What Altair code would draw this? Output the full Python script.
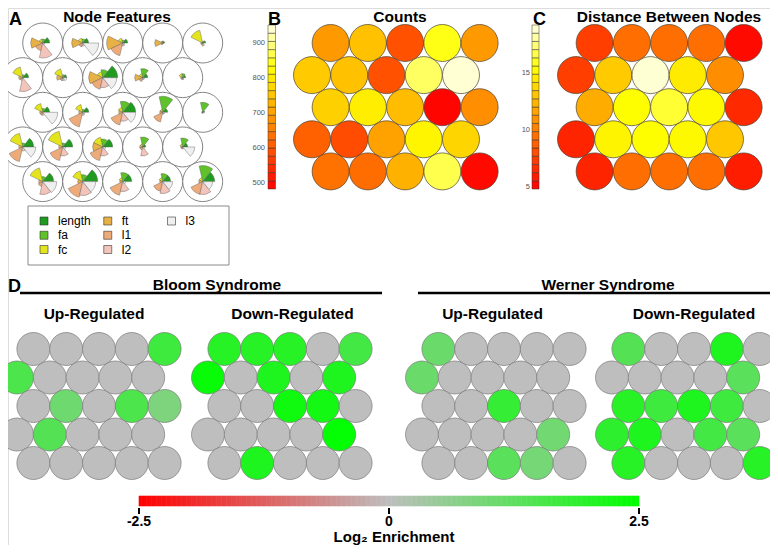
import math
import altair as alt
import pandas as pd

W, H = 762, 537
OFF = 8
FONT = "Liberation Sans"

# ---------------- data ----------------
features = ["length", "fa", "fc", "ft", "l1", "l2", "l3"]
feature_colors = ["#1f9b1f", "#5fc22a", "#e4e41e", "#e7b146", "#eeab7a", "#f3c4b9", "#efefef"]

# segment radii (0-20 scale, 20 = node radius), nodes row-major, top row first
seg_length = [7, 6, 5, 2, 3, 6, 4, 15, 5, 3, 7, 6, 13, 5, 2, 11, 10, 10, 3, 5, 11, 15, 9, 8, 12]
seg_fa = [4, 4, 3, 2, 2, 3, 3, 8, 9, 4, 4, 3, 11, 16, 10, 4, 4, 8, 10, 9, 5, 7, 9, 8, 16]
seg_fc = [4, 5, 5, 2, 13, 11, 9, 6, 4, 4, 9, 8, 5, 3, 1, 14, 16, 10, 3, 3, 14, 11, 4, 4, 4]
seg_ft = [12, 11, 16, 8, 2, 4, 6, 14, 8, 2, 3, 4, 4, 3, 1, 4, 4, 10, 3, 2, 4, 5, 3, 3, 4]
seg_l1 = [8, 4, 13, 2, 2, 3, 3, 12, 4, 2, 3, 15, 13, 10, 1, 15, 14, 14, 3, 2, 5, 16, 14, 10, 13]
seg_l2 = [15, 3, 3, 1, 3, 14, 3, 10, 2, 2, 3, 3, 9, 2, 1, 4, 9, 9, 9, 2, 13, 14, 10, 12, 13]
seg_l3 = [2, 16, 2, 1, 1, 1, 4, 14, 2, 1, 15, 2, 13, 2, 1, 13, 3, 3, 2, 12, 14, 13, 3, 10, 10]

counts = [690, 745, 593, 840, 690,
          758, 745, 593, 880, 940,
          765, 805, 738, 490, 675,
          614, 586, 703, 815, 772,
          637, 630, 723, 870, 495]
distances = [7.4, 9.4, 9.4, 9.4, 5.2,
             7.4, 13.3, 18.9, 14.6, 10.7,
             12.0, 15.4, 16.3, 15.2, 6.5,
             6.3, 15.0, 15.4, 15.2, 13.1,
             6.3, 9.4, 9.4, 9.4, 6.0]

bloom_up = [0, 0, 0, 0, 1.7,
            1.5, 0, 0, 0, 0,
            0, 1.05, 0, 1.5, 0.85,
            0, 1.4, 0, 0, 0,
            0, 0, 0, 0, 0]
bloom_down = [2.0, 2.0, 2.0, 0, 1.6,
              2.4, 0, 2.1, 0, 2.1,
              0, 0, 2.3, 2.25, 0,
              0, 0, 0, 0, 2.45,
              0, 2.1, 0, 0, 0]
werner_up = [1.1, 0, 0, 0, 0,
             1.1, 0, 0, 0, 0,
             0, 0, 1.8, 0, 0,
             0, 0, 0, 0, 1.0,
             0, 0, 1.3, 0.95, 0]
werner_down = [1.4, 0, 0, 2.1, 0,
               0, 0, 0, 0, 1.3,
               2.0, 1.7, 2.1, 1.7, 0,
               1.9, 2.1, 0, 1.6, 1.3,
               2.0, 0, 0, 0, 2.0]

counts_limits = [483, 950]
counts_ticks = [500, 600, 700, 800, 900]
dist_limits = [4.8, 19.2]
dist_ticks = [5, 10, 15]
enrich_limits = [-2.5, 2.5]
enrich_ticks = [-2.5, 0, 2.5]
enrich_tick_labels = ["-2.5", "0", "2.5"]
n_bands = 20


# ---------------- helpers ----------------
def hex_frame(values):
    recs = []
    for n, v in enumerate(values):
        r, c = divmod(n, 5)
        recs.append({"row": r, "hx": c + (0.5 if r % 2 == 0 else 0.0), "value": v})
    return pd.DataFrame(recs)


def gx(x0, dx):
    return alt.Scale(domain=[0, 4.5], range=[x0 - OFF, x0 + 4.5 * dx - OFF], nice=False, zero=False)


def gy(y0, dy):
    return alt.Scale(domain=[0, 4], range=[y0 - OFF, y0 + 4 * dy - OFF], nice=False, zero=False)


def heat_scale(lim):
    lo, hi = lim
    return alt.Scale(type="linear", domain=[lo, lo + 0.74 * (hi - lo), hi],
                     range=["#ff0000", "#ffff00", "#ffffe6"], interpolate="rgb", clamp=True)


enrich_scale = alt.Scale(type="linear", domain=[-2.5, 0, 2.5],
                         range=["#ff0000", "#bebebe", "#00ff00"], interpolate="rgb", clamp=True)


def text(t, x, y, size=15.5, weight="bold", align="center", color="black", baseline="alphabetic"):
    return alt.Chart(pd.DataFrame({"t": [t]})).mark_text(
        text=t, font=FONT, fontSize=size, fontWeight=weight, align=align,
        baseline=baseline, color=color
    ).encode(x=alt.value(x), y=alt.value(y))


def hline(x1, x2, y, w):
    return alt.Chart(pd.DataFrame({"a": [0]})).mark_rule(color="black", strokeWidth=w).encode(
        x=alt.value(x1), x2=alt.value(x2), y=alt.value(y))


def hex_layer(values, x0, dx, y0, dy, diam, cscale, stroke, sw):
    return alt.Chart(hex_frame(values)).mark_point(
        shape="circle", filled=True, size=diam * diam, opacity=1, stroke=stroke, strokeWidth=sw
    ).encode(
        x=alt.X("hx:Q", scale=gx(x0, dx), axis=None),
        y=alt.Y("row:Q", scale=gy(y0, dy), axis=None),
        color=alt.Color("value:Q", scale=cscale, legend=None),
    )


def colorbar(lim, ticks, x1, x2, y_top, y_bot, label_x, cscale):
    lo, hi = lim
    step = (hi - lo) / n_bands
    bands = pd.DataFrame({"lo": [lo + i * step for i in range(n_bands)]})
    bands["hi"] = bands["lo"] + step
    bands["mid"] = bands["lo"] + step / 2
    ys = alt.Scale(domain=[lo, hi], range=[y_bot - OFF, y_top - OFF], nice=False, zero=False)
    rects = alt.Chart(bands).mark_rect(stroke="#333333", strokeWidth=0.5).encode(
        x=alt.value(x1 - OFF), x2=alt.value(x2 - OFF),
        y=alt.Y("lo:Q", scale=ys, axis=None), y2="hi:Q",
        color=alt.Color("mid:Q", scale=cscale, legend=None),
    )
    labs = alt.Chart(pd.DataFrame({"v": ticks})).mark_text(
        font=FONT, fontSize=7.5, align="right", baseline="middle", color="#555555"
    ).encode(
        x=alt.value(label_x - OFF),
        y=alt.Y("v:Q", scale=ys, axis=None),
        text=alt.Text("v:Q"),
    )
    return [rects, labs]


layers = []

# ---------------- Panel A ----------------
A_x0, A_dx, A_y0, A_dy = 22.7, 40.0, 43.0, 34.65
layers.append(alt.Chart(hex_frame([0] * 25)).mark_point(
    shape="circle", filled=True, fill="white", size=40 * 40, opacity=1, stroke="#777777", strokeWidth=0.9
).encode(
    x=alt.X("hx:Q", scale=gx(A_x0, A_dx), axis=None),
    y=alt.Y("row:Q", scale=gy(A_y0, A_dy), axis=None),
))

seg_values = [seg_length, seg_fa, seg_fc, seg_ft, seg_l1, seg_l2, seg_l3]
recs = []
for k, f in enumerate(features):
    for n, v in enumerate(seg_values[k]):
        r, c = divmod(n, 5)
        recs.append({
            "feature": f, "row": r, "hx": c + (0.5 if r % 2 == 0 else 0.0), "value": v,
            "t0": 2.5 * math.pi - 2 * math.pi * (k + 1) / 7,
            "t1": 2.5 * math.pi - 2 * math.pi * k / 7,
        })
seg_df = pd.DataFrame(recs)
layers.append(alt.Chart(seg_df).mark_arc(stroke="#555555", strokeWidth=0.4).encode(
    x=alt.X("hx:Q", scale=gx(A_x0, A_dx), axis=None),
    y=alt.Y("row:Q", scale=gy(A_y0, A_dy), axis=None),
    theta=alt.Theta("t0:Q", scale=None, stack=None),
    theta2="t1:Q",
    radius=alt.Radius("value:Q", scale=alt.Scale(type="linear", domain=[0, 20], range=[0, 20], zero=True)),
    color=alt.Color("feature:N", scale=alt.Scale(domain=features, range=feature_colors), legend=None),
))

# legend box
layers.append(alt.Chart(pd.DataFrame({"a": [0]})).mark_rect(
    fill="white", stroke="#8a8a8a", strokeWidth=1).encode(
    x=alt.value(28 - OFF), x2=alt.value(229 - OFF), y=alt.value(206 - OFF), y2=alt.value(265 - OFF)))
leg = pd.DataFrame({"feature": features,
                    "lc": [k // 3 for k in range(7)],
                    "lr": [k % 3 for k in range(7)]})
lx = alt.Scale(domain=[0, 2], range=[44 - OFF, 171.5 - OFF], nice=False, zero=False)
ly = alt.Scale(domain=[0, 2], range=[221 - OFF, 249.5 - OFF], nice=False, zero=False)
layers.append(alt.Chart(leg).mark_point(
    shape="square", filled=True, size=64, opacity=1, stroke="#333333", strokeWidth=0.6).encode(
    x=alt.X("lc:Q", scale=lx, axis=None),
    y=alt.Y("lr:Q", scale=ly, axis=None),
    color=alt.Color("feature:N", scale=alt.Scale(domain=features, range=feature_colors), legend=None),
))
layers.append(alt.Chart(leg).mark_text(
    font=FONT, fontSize=12, align="left", baseline="middle", dx=14, color="black").encode(
    x=alt.X("lc:Q", scale=lx, axis=None),
    y=alt.Y("lr:Q", scale=ly, axis=None),
    text="feature:N",
))
layers.append(text("A", 1, 17, size=18, align="left"))
layers.append(text("Node Features", 117 - OFF, 14))

# ---------------- Panel B ----------------
layers.append(hex_layer(counts, 312, 37.25, 43, 32.1, 37, heat_scale(counts_limits), "#4a4030", 0.7))
layers += colorbar(counts_limits, counts_ticks, 268, 275.5, 25, 189, 265, heat_scale(counts_limits))
layers.append(text("B", 268 - OFF, 17, size=18, align="left"))
layers.append(text("Counts", 400 - OFF, 14))

# ---------------- Panel C ----------------
layers.append(hex_layer(distances, 576, 37.25, 43, 32.1, 37, heat_scale(dist_limits), "#4a4030", 0.7))
layers += colorbar(dist_limits, dist_ticks, 532, 539, 25, 189, 530, heat_scale(dist_limits))
layers.append(text("C", 533 - OFF, 17, size=18, align="left"))
layers.append(text("Distance Between Nodes", 669 - OFF, 14))

# ---------------- Panel D ----------------
D_dx, D_y0, D_dy, D_d = 32.8, 349, 28.5, 33
for vals, x0 in [(bloom_up, 17), (bloom_down, 208), (werner_up, 422), (werner_down, 612)]:
    layers.append(hex_layer(vals, x0, D_dx, D_y0, D_dy, D_d, enrich_scale, "#7a7a7a", 0.7))

layers.append(text("D", 0, 284, size=18, align="left"))
layers.append(hline(20 - OFF, 382 - OFF, 293 - OFF, 2.5))
layers.append(hline(418 - OFF, W, 293 - OFF, 2.5))
layers.append(text("Bloom Syndrome", 217 - OFF, 282))
layers.append(text("Werner Syndrome", 608 - OFF, 282))
layers.append(text("Up-Regulated", 94 - OFF, 311))
layers.append(text("Down-Regulated", 292.5 - OFF, 311))
layers.append(text("Up-Regulated", 492.5 - OFF, 311))
layers.append(text("Down-Regulated", 694 - OFF, 311))

# gradient colour bar
ex = alt.Scale(domain=enrich_limits, range=[139 - OFF, 639 - OFF], nice=False, zero=False)
n_grad = 200
gstep = (enrich_limits[1] - enrich_limits[0]) / n_grad
grad = pd.DataFrame({"lo": [enrich_limits[0] + i * gstep for i in range(n_grad)]})
grad["hi"] = grad["lo"] + gstep
grad["mid"] = grad["lo"] + gstep / 2
layers.append(alt.Chart(grad).mark_rect(strokeWidth=0.6).encode(
    x=alt.X("lo:Q", scale=ex, axis=None), x2="hi:Q",
    y=alt.value(496 - OFF), y2=alt.value(506 - OFF),
    color=alt.Color("mid:Q", scale=enrich_scale, legend=None),
    stroke=alt.Stroke("mid:Q", scale=enrich_scale, legend=None),
))
tick_df = pd.DataFrame({"v": enrich_ticks, "lab": enrich_tick_labels})
layers.append(alt.Chart(tick_df).mark_rule(color="black", strokeWidth=2).encode(
    x=alt.X("v:Q", scale=ex, axis=None),
    y=alt.value(508 - OFF), y2=alt.value(514 - OFF),
))
layers.append(alt.Chart(tick_df).mark_text(
    font=FONT, fontSize=14, fontWeight="bold", align="center", baseline="alphabetic", color="black").encode(
    x=alt.X("v:Q", scale=ex, axis=None),
    y=alt.value(518),
    text="lab:N",
))
layers.append(text("Log\u2082 Enrichment", 394 - OFF, 534, size=15))

chart = alt.layer(*layers).resolve_scale(
    x="independent", y="independent", color="independent",
    stroke="independent", radius="independent", theta="independent",
).properties(
    width=W, height=H, padding=0, autosize=alt.AutoSizeParams(type="none"),
).configure_view(stroke=None).configure(background="white")

chart.save("out.html", embed_options={"renderer": "svg", "actions": False})
